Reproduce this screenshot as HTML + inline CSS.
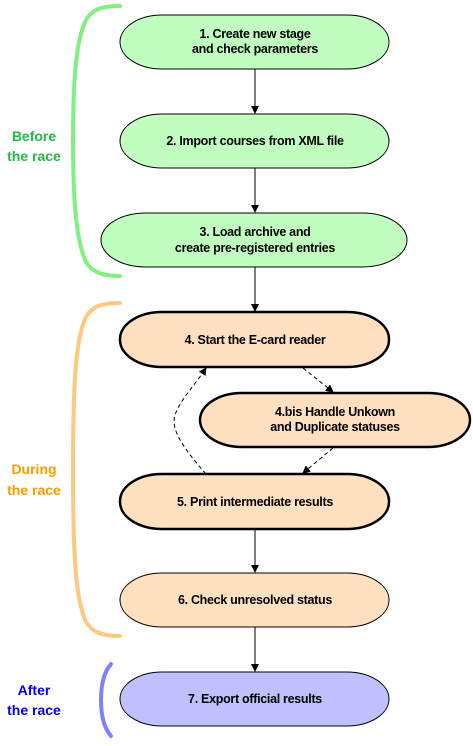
<!DOCTYPE html>
<html><head><meta charset="utf-8"><style>
html,body{margin:0;padding:0;background:#fff;}
svg text{font-family:"Liberation Sans",sans-serif;font-weight:bold;}
</style></head><body>
<svg width="473" height="741" viewBox="0 0 473 741" xmlns="http://www.w3.org/2000/svg">
<defs>
<marker id="a" markerWidth="8" markerHeight="8" refX="7" refY="4" orient="auto" markerUnits="userSpaceOnUse"><path d="M0,0 L8,4 L0,8 z" fill="#000"/></marker>
</defs>
<path d="M120,6 C100,6 92,10 86,20 C76,40 73,80 73,140 C73,200 76,240 86,262 C92,272 102,276 120,276" fill="none" stroke="#80f080" stroke-width="4" stroke-linecap="round"/>
<path d="M120,303 C100,303 92,307 86,317 C76,337 73,380 73,470 C73,560 76,600 86,622 C92,632 102,636 120,636" fill="none" stroke="#ffc880" stroke-width="4" stroke-linecap="round"/>
<path d="M111,664 C104,672 101,685 101,700 C101,715 104,728 111,736" fill="none" stroke="#8080ff" stroke-width="4" stroke-linecap="round"/>
<g font-size="14" text-anchor="middle">
<text x="34" y="141" fill="#22bb44">Before</text><text x="34" y="161" fill="#22bb44">the race</text>
<text x="34" y="474" fill="#ff9900">During</text><text x="34" y="495" fill="#ff9900">the race</text>
<text x="34" y="695" fill="#0000ee">After</text><text x="34" y="715" fill="#0000ee">the race</text>
</g>
<g stroke="#000" stroke-width="1">
<line x1="255" y1="69" x2="255" y2="113" marker-end="url(#a)"/>
<line x1="255" y1="168" x2="255" y2="212" marker-end="url(#a)"/>
<line x1="255" y1="267" x2="255" y2="311" marker-end="url(#a)"/>
<line x1="255" y1="529" x2="255" y2="572" marker-end="url(#a)"/>
<line x1="255" y1="627" x2="255" y2="671" marker-end="url(#a)"/>
<g stroke-dasharray="4,3" fill="none">
<path d="M206,474 C185,450 170,430 175,415 C180,400 195,385 206,368" marker-end="url(#a)"/>
<line x1="303" y1="368" x2="333" y2="392" marker-end="url(#a)"/>
<line x1="333" y1="448" x2="303" y2="473" marker-end="url(#a)"/>
</g>
</g>
<g stroke="#000">
<rect x="120" y="15" width="269" height="54" rx="42" ry="27" fill="#c0ffc0" stroke-width="1"/>
<rect x="120" y="114" width="269" height="54" rx="42" ry="27" fill="#c0ffc0" stroke-width="1"/>
<rect x="101" y="213" width="306" height="54" rx="45" ry="27" fill="#c0ffc0" stroke-width="1"/>
<rect x="120" y="312" width="269" height="55" rx="42" ry="27" fill="#ffe0c0" stroke-width="2.5"/>
<rect x="200" y="393" width="270" height="54" rx="42" ry="27" fill="#ffe0c0" stroke-width="2.5"/>
<rect x="120" y="474" width="269" height="55" rx="42" ry="27" fill="#ffe0c0" stroke-width="2.5"/>
<rect x="120" y="573" width="269" height="54" rx="42" ry="27" fill="#ffe0c0" stroke-width="1"/>
<rect x="120" y="672" width="269" height="54" rx="42" ry="27" fill="#c0c0ff" stroke-width="1"/>
</g>
<g font-size="12.5" text-anchor="middle" fill="#000" letter-spacing="-0.3">
<text x="255" y="38">1. Create new stage</text><text x="255" y="53">and check parameters</text>
<text x="255" y="145">2. Import courses from XML file</text>
<text x="255" y="236">3. Load archive and</text><text x="255" y="252">create pre-registered entries</text>
<text x="255" y="344">4. Start the E-card reader</text>
<text x="335" y="416">4.bis Handle Unkown</text><text x="335" y="431">and Duplicate statuses</text>
<text x="255" y="506">5. Print intermediate results</text>
<text x="255" y="604">6. Check unresolved status</text>
<text x="255" y="703">7. Export official results</text>
</g>
</svg>
</body></html>
